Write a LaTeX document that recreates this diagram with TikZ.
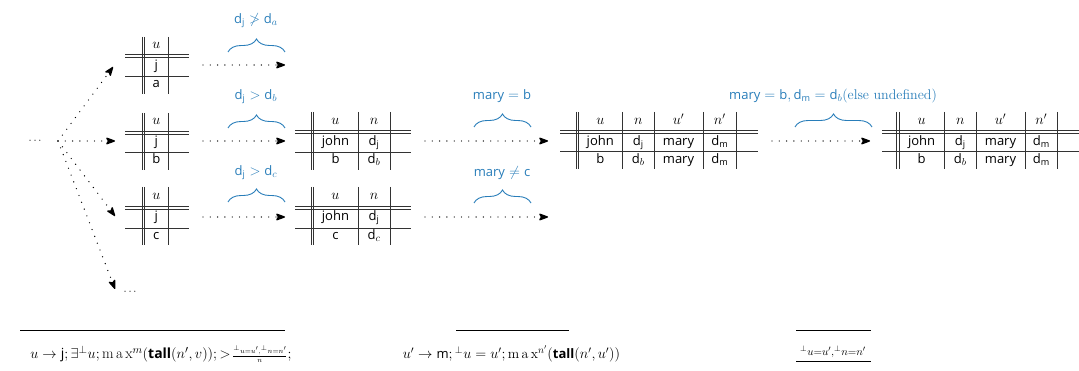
\documentclass[tikz,border=0pt]{standalone}
\usepackage{amsmath,amssymb}
\usepackage{fontspec}
\newfontfamily\sfx[Scale=0.93]{Open Sans}
\usetikzlibrary{arrows.meta,decorations.pathreplacing}
\definecolor{bl}{RGB}{40,125,185}
\newcommand\sv[1]{\text{\sfx #1}}
\newcommand\svb[1]{\text{\bfseries\sfx #1}}
\newcommand\mx{\mathrm{m\,a\,x}}
\newcommand\fs{\fontsize{14}{16}\selectfont}
\tikzset{
  tline/.style={draw=black!80,line width=0.7pt},
  cell/.style={anchor=mid,inner sep=0pt,font=\fs},
  lbl/.style={text=bl,inner sep=0pt,font=\fs},
  dotarrow/.style={line width=1.35pt,line cap=round,dash pattern=on 0pt off 7.3pt,
    -{Stealth[length=11pt,width=8pt,inset=2.5pt,round=false]}},
  bracestyle/.style={draw=bl,line width=0.9pt,decorate,decoration={brace,amplitude=13pt}},
  rule/.style={draw=black,line width=0.9pt},
  btext/.style={inner sep=0pt,font=\fs},
}
% xl, xr, xd, verticals, ytop, yh, yr, yb
\newcommand\tgrid[8]{%
  \draw[tline] (#1,#6) -- (#2,#6);
  \draw[tline] (#1,#6+3) -- (#2,#6+3);
  \draw[tline] (#1,#7) -- (#2,#7);
  \draw[tline] (#3,#5) -- (#3,#8);
  \draw[tline] (#3+2.2,#5) -- (#3+2.2,#8);
  \foreach \vx in {#4}{\draw[tline] (\vx,#5) -- (\vx,#8);}
}
\begin{document}
\begin{tikzpicture}[x=1pt,y=-1pt]
\useasboundingbox (0,0) rectangle (1079,371);

% ---- left fan
\coordinate (o) at (58,141);
\node[inner sep=0pt,font=\fontsize{11}{13}\selectfont] (ldots) at (36,141) {$\cdots$};
\node[inner sep=0pt,font=\fontsize{11}{13}\selectfont] (bdots) at (131,292) {$\cdots$};
\coordinate (f1) at (113,67);
\coordinate (f2) at (115,141);
\coordinate (f3) at (115,216);
\coordinate (f4) at (115,289);
\foreach \t in {f1,f2,f3,f4}{\draw[dotarrow] (o) -- (\t);}

% ---- table A
\tgrid{125}{189}{142.5}{168}{37}{54}{76}{94}
\node[cell] (A-h) at (156.3,46) {$u$};
\node[cell] (A-1) at (156.3,67) {\sfx j};
\node[cell] (A-2) at (156.3,85.5) {\sfx a};
% ---- table B
\tgrid{125}{189}{142.5}{168}{113}{131}{152}{170}
\node[cell] (B-h) at (156.3,122.5) {$u$};
\node[cell] (B-1) at (156.3,143.5) {\sfx j};
\node[cell] (B-2) at (156.3,161.5) {\sfx b};
% ---- table C
\tgrid{125}{189}{142.5}{168}{187}{206}{228}{245}
\node[cell] (C-h) at (156.3,197) {$u$};
\node[cell] (C-1) at (156.3,218.5) {\sfx j};
\node[cell] (C-2) at (156.3,237) {\sfx c};

% ---- table D
\tgrid{295}{411}{311}{358,390}{112}{130.5}{152}{170}
\node[cell] (D-h1) at (335.5,122.5) {$u$};
\node[cell] (D-h2) at (374,122.5) {$n$};
\node[cell] (D-11) at (335.5,143.5) {\sfx john};
\node[cell] (D-12) at (374,143.5) {$\sv{d}_{\sv{j}}$};
\node[cell] (D-21) at (335.5,161.5) {\sfx b};
\node[cell] (D-22) at (374,161.5) {$\sv{d}_{b}$};
% ---- table E
\tgrid{295}{411}{311}{358,390}{187}{206}{228}{245.5}
\node[cell] (E-h1) at (335.5,197) {$u$};
\node[cell] (E-h2) at (374,197) {$n$};
\node[cell] (E-11) at (335.5,218.5) {\sfx john};
\node[cell] (E-12) at (374,218.5) {$\sv{d}_{\sv{j}}$};
\node[cell] (E-21) at (335.5,237) {\sfx c};
\node[cell] (E-22) at (374,237) {$\sv{d}_{c}$};

% ---- table F
\tgrid{560}{758}{576}{622.7,654,703,736.7}{112}{130.7}{151.7}{169}
\node[cell] (F-h1) at (600.3,122.5) {$u$};
\node[cell] (F-h2) at (638.3,122.5) {$n$};
\node[cell] (F-h3) at (678.5,122.5) {$u'$};
\node[cell] (F-h4) at (719.8,122.5) {$n'$};
\node[cell] (F-11) at (600.3,143) {\sfx john};
\node[cell] (F-12) at (638.3,143) {$\sv{d}_{\sv{j}}$};
\node[cell] (F-13) at (678.5,143) {\sfx mary};
\node[cell] (F-14) at (719.8,143) {$\sv{d}_{\sv{m}}$};
\node[cell] (F-21) at (600.3,161) {\sfx b};
\node[cell] (F-22) at (638.3,161) {$\sv{d}_{b}$};
\node[cell] (F-23) at (678.5,161) {\sfx mary};
\node[cell] (F-24) at (719.8,161) {$\sv{d}_{\sv{m}}$};

% ---- table G
\tgrid{882}{1079}{896.7}{944.3,976,1025,1057.7}{112}{130.7}{151.7}{169}
\node[cell] (G-h1) at (921.6,122.5) {$u$};
\node[cell] (G-h2) at (960.2,122.5) {$n$};
\node[cell] (G-h3) at (1000.5,122.5) {$u'$};
\node[cell] (G-h4) at (1041.3,122.5) {$n'$};
\node[cell] (G-11) at (921.6,143) {\sfx john};
\node[cell] (G-12) at (960.2,143) {$\sv{d}_{\sv{j}}$};
\node[cell] (G-13) at (1000.5,143) {\sfx mary};
\node[cell] (G-14) at (1041.3,143) {$\sv{d}_{\sv{m}}$};
\node[cell] (G-21) at (921.6,161) {\sfx b};
\node[cell] (G-22) at (960.2,161) {$\sv{d}_{b}$};
\node[cell] (G-23) at (1000.5,161) {\sfx mary};
\node[cell] (G-24) at (1041.3,161) {$\sv{d}_{\sv{m}}$};

% ---- arrows
\coordinate (a1s) at (203,65);  \coordinate (a1e) at (285,65);
\coordinate (a2s) at (203,141); \coordinate (a2e) at (285,141);
\coordinate (a3s) at (203,217); \coordinate (a3e) at (285,217);
\coordinate (a4s) at (425,141); \coordinate (a4e) at (548,141);
\coordinate (a5s) at (425,217); \coordinate (a5e) at (548,217);
\coordinate (a6s) at (772,141); \coordinate (a6e) at (870,141);
\foreach \i in {1,...,6}{\draw[dotarrow] (a\i s) -- (a\i e);}

% ---- braces
\coordinate (b1l) at (228,52);  \coordinate (b1r) at (285,52);
\coordinate (b2l) at (228,128); \coordinate (b2r) at (285,128);
\coordinate (b3l) at (228,202); \coordinate (b3r) at (285,202);
\coordinate (b4l) at (474,127); \coordinate (b4r) at (531,127);
\coordinate (b5l) at (474,203); \coordinate (b5r) at (531,203);
\coordinate (b6l) at (795,127); \coordinate (b6r) at (872,127);
\foreach \i in {1,...,6}{\draw[bracestyle] (b\i l) -- (b\i r);}

% ---- brace labels
\node[lbl] (l1) at (256,21) {$\sv{d}_{\sv{j}} \not> \sv{d}_{a}$};
\node[lbl] (l2) at (256,97) {$\sv{d}_{\sv{j}} > \sv{d}_{b}$};
\node[lbl] (l3) at (256,173) {$\sv{d}_{\sv{j}} > \sv{d}_{c}$};
\node[lbl] (l4) at (502,96) {$\sv{mary} = \sv{b}$};
\node[lbl] (l5) at (502,173) {$\sv{mary} \neq \sv{c}$};
\node[lbl] (l6) at (833,96) {$\sv{mary} = \sv{b}, \sv{d}_{\sv{m}} = \sv{d}_{b}$(else undefined)};

% ---- bottom rules and texts
\coordinate (r1l) at (20,330);  \coordinate (r1r) at (285,330);
\coordinate (r2l) at (456,330); \coordinate (r2r) at (569,330);
\coordinate (r3l) at (796,330); \coordinate (r3r) at (871,330);
\foreach \i in {1,2,3}{\draw[rule] (r\i l) -- (r\i r);}
\node[btext,font=\fontsize{15}{17}\selectfont] (t1) at (161,354) {$u \rightarrow \sv{j}; \exists^{\bot} u; \mx^{m}(\svb{tall}(n', v)); >\!{\scriptstyle\frac{{}^{\bot}u=u', {}^{\bot}n=n'}{n}};$};
\node[btext] (t2) at (511.5,354) {$u' \rightarrow \sv{m};{}^{\bot} u = u'; \mx^{n'}(\svb{tall}(n', u'))$};
\node[btext,font=\fontsize{16}{18}\selectfont] (t3) at (833,352) {$\scriptstyle {}^{\bot}u=u', {}^{\bot}n=n'$};
\coordinate (u3l) at (796,361.7); \coordinate (u3r) at (871,361.7);
\draw[rule] (u3l) -- (u3r);
\end{tikzpicture}
\end{document}
